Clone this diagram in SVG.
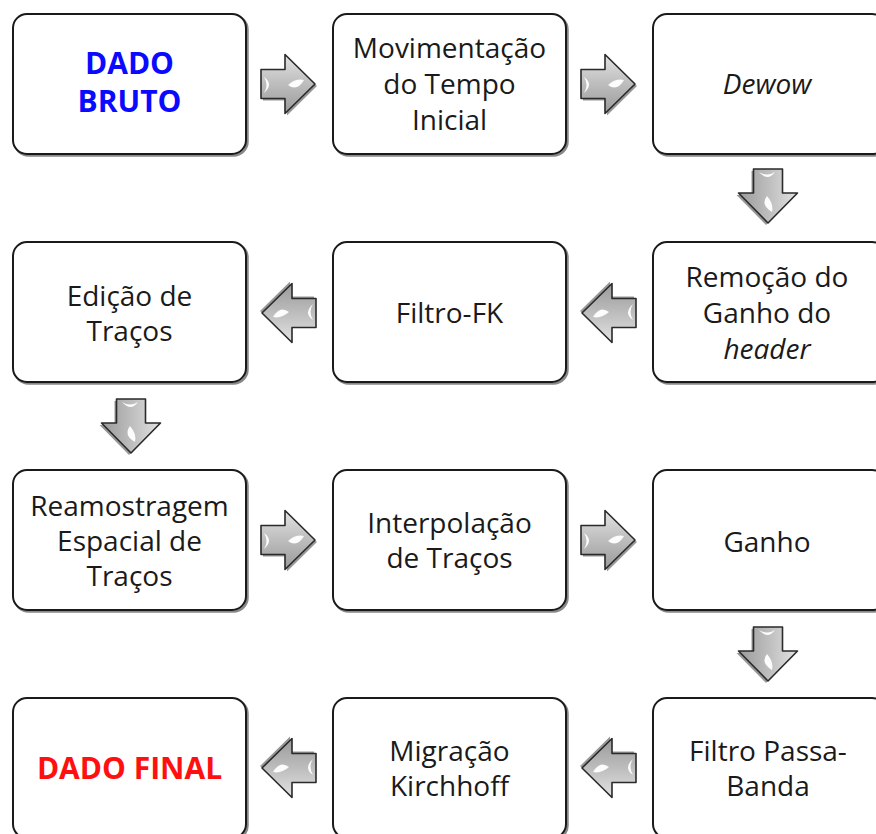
<svg xmlns="http://www.w3.org/2000/svg" width="876" height="834" viewBox="0 0 876 834">
<style>
.box{fill:#fff;stroke:#1a1a1a;stroke-width:2}
.sh{fill:none;stroke:#555;stroke-width:2.5;opacity:0.7}
.t{font-family:"Open Sans","Liberation Sans",sans-serif;font-size:28px;fill:#1a1a1a;text-anchor:middle}
.it{font-style:italic}
.b{font-weight:bold;font-size:30px}
</style>
<defs>
<linearGradient id="ag" x1="0" y1="0" x2="0" y2="1">
<stop offset="0" stop-color="#e2e2e2"/>
<stop offset="0.5" stop-color="#bdbdbd"/>
<stop offset="1" stop-color="#9a9a9a"/>
</linearGradient>
<g id="arr">
<path d="M-25,-12.5 H-1 V-27.5 L29,2 L-1,31.5 V16.5 H-25 Z" fill="#444" opacity="0.55"/>
<path d="M-27,-14.5 H-3 V-29.5 L27,0 L-3,29.5 V14.5 H-27 Z" fill="url(#ag)" stroke="#2a2a2a" stroke-width="1.6" stroke-linejoin="round"/>
<path d="M-24,-7 Q-14,0 -24,9 Q-19,1 -24,-7 Z" fill="#fff" opacity="0.95"/>
<path d="M0,1 Q8,-6 16,-4 Q9,8 0,1 Z" fill="#fff" opacity="0.95"/>
</g>
</defs>
<g id="connectors">
<use href="#arr" transform="translate(288,84)"/>
<use href="#arr" transform="translate(608,84)"/>
<use href="#arr" transform="translate(768,196) rotate(90)"/>
<use href="#arr" transform="translate(609,313) rotate(180)"/>
<use href="#arr" transform="translate(289,313) rotate(180)"/>
<use href="#arr" transform="translate(131,426) rotate(90)"/>
<use href="#arr" transform="translate(288,540)"/>
<use href="#arr" transform="translate(608,540)"/>
<use href="#arr" transform="translate(768,654) rotate(90)"/>
<use href="#arr" transform="translate(609,768) rotate(180)"/>
<use href="#arr" transform="translate(289,768) rotate(180)"/>
</g>
<g id="n1"><rect class="sh" x="14.5" y="15.5" width="233" height="140" rx="14"/><rect class="box" x="13" y="14" width="233" height="140" rx="14"/>
<text class="t b" x="129.5" y="74" style="fill:#0a0aff">DADO</text><text class="t b" x="129.5" y="112" style="fill:#0a0aff">BRUTO</text></g>
<g id="n2"><rect class="sh" x="334.5" y="15.5" width="233" height="140" rx="14"/><rect class="box" x="333" y="14" width="233" height="140" rx="14"/>
<text class="t" x="449.5" y="58">Movimentação</text><text class="t" x="449.5" y="94">do Tempo</text><text class="t" x="449.5" y="130">Inicial</text></g>
<g id="n3"><rect class="sh" x="654.5" y="15.5" width="233" height="140" rx="14"/><rect class="box" x="653" y="14" width="233" height="140" rx="14"/>
<text class="t it" x="767" y="94">Dewow</text></g>
<g id="n4"><rect class="sh" x="654.5" y="243.5" width="233" height="140" rx="14"/><rect class="box" x="653" y="242" width="233" height="140" rx="14"/>
<text class="t" x="767" y="287">Remoção do</text><text class="t" x="767" y="323">Ganho do</text><text class="t it" x="767" y="359">header</text></g>
<g id="n5"><rect class="sh" x="334.5" y="243.5" width="233" height="140" rx="14"/><rect class="box" x="333" y="242" width="233" height="140" rx="14"/>
<text class="t" x="449.5" y="323">Filtro-FK</text></g>
<g id="n6"><rect class="sh" x="14.5" y="243.5" width="233" height="140" rx="14"/><rect class="box" x="13" y="242" width="233" height="140" rx="14"/>
<text class="t" x="129.5" y="306">Edição de</text><text class="t" x="129.5" y="341">Traços</text></g>
<g id="n7"><rect class="sh" x="14.5" y="471.5" width="233" height="140" rx="14"/><rect class="box" x="13" y="470" width="233" height="140" rx="14"/>
<text class="t" x="129.5" y="516">Reamostragem</text><text class="t" x="129.5" y="551">Espacial de</text><text class="t" x="129.5" y="586">Traços</text></g>
<g id="n8"><rect class="sh" x="334.5" y="471.5" width="233" height="140" rx="14"/><rect class="box" x="333" y="470" width="233" height="140" rx="14"/>
<text class="t" x="449.5" y="533">Interpolação</text><text class="t" x="449.5" y="568">de Traços</text></g>
<g id="n9"><rect class="sh" x="654.5" y="471.5" width="233" height="140" rx="14"/><rect class="box" x="653" y="470" width="233" height="140" rx="14"/>
<text class="t" x="767" y="552">Ganho</text></g>
<g id="n10"><rect class="sh" x="654.5" y="699.5" width="233" height="140" rx="14"/><rect class="box" x="653" y="698" width="233" height="140" rx="14"/>
<text class="t" x="768" y="761">Filtro Passa-</text><text class="t" x="768" y="796">Banda</text></g>
<g id="n11"><rect class="sh" x="334.5" y="699.5" width="233" height="140" rx="14"/><rect class="box" x="333" y="698" width="233" height="140" rx="14"/>
<text class="t" x="449.5" y="761">Migração</text><text class="t" x="449.5" y="796">Kirchhoff</text></g>
<g id="n12"><rect class="sh" x="14.5" y="699.5" width="233" height="140" rx="14"/><rect class="box" x="13" y="698" width="233" height="140" rx="14"/>
<text class="t b" x="129.5" y="779" style="fill:#ff1010">DADO FINAL</text></g>
</svg>
